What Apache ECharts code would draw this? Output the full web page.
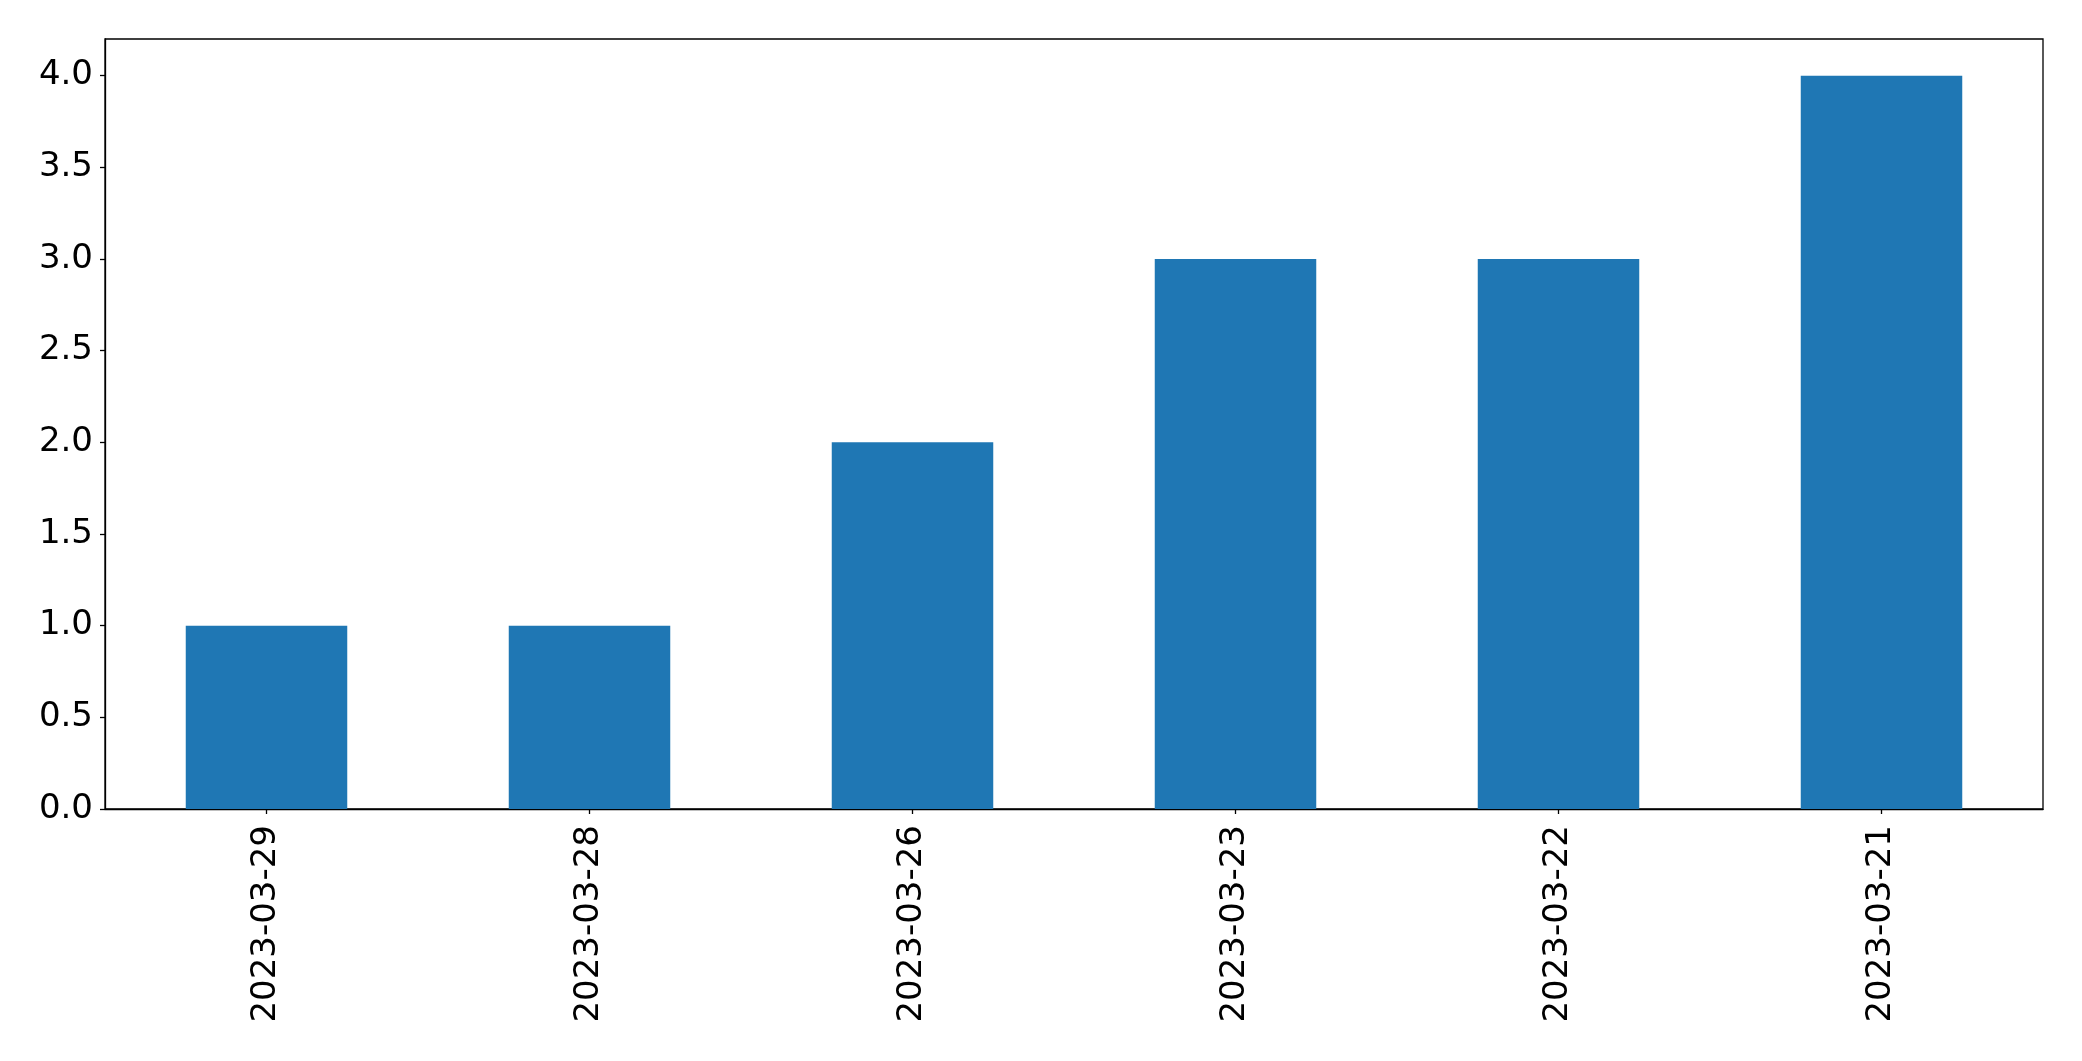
<!DOCTYPE html>
<html>
<head>
<meta charset="utf-8">
<script src="https://cdn.jsdelivr.net/npm/echarts@6/dist/echarts.min.js"></script>
<style>
html,body{margin:0;padding:0;background:#fff;}
#chart{width:2082px;height:1061px;}
</style>
</head>
<body>
<div id="chart"></div>
<script>
const categories = ["2023-03-29", "2023-03-28", "2023-03-26", "2023-03-23", "2023-03-22", "2023-03-21"];
const counts = [1, 1, 2, 3, 3, 4];
const yTicks = [0, 0.5, 1.0, 1.5, 2.0, 2.5, 3.0, 3.5, 4.0];

const chart = echarts.init(document.getElementById('chart'), null, {renderer: 'canvas'});
const font = 'DejaVu Sans';
chart.setOption({
  animation: false,
  backgroundColor: '#fff',
  grid: {
    left: 105, right: 39, top: 39, bottom: 252,
    show: true, borderColor: '#000', borderWidth: 1.3, backgroundColor: 'transparent'
  },
  xAxis: {
    type: 'category',
    data: categories,
    axisLine: {show: true, lineStyle: {color: '#000', width: 1.3}},
    axisTick: {show: true, alignWithLabel: true, length: 5, lineStyle: {color: '#000', width: 1.3}},
    axisLabel: {rotate: 90, margin: 16, color: '#000', fontSize: 34, fontFamily: font, interval: 0},
    splitLine: {show: false}
  },
  yAxis: {
    type: 'value',
    min: 0, max: 4.2,
    axisLine: {show: true, lineStyle: {color: '#000', width: 1.3}},
    axisTick: {show: true, length: 5, lineStyle: {color: '#000', width: 1.3}, customValues: yTicks},
    axisLabel: {
      color: '#000', fontSize: 34, fontFamily: font, margin: 12,
      customValues: yTicks,
      formatter: v => v.toFixed(1)
    },
    splitLine: {show: false}
  },
  series: [{
    type: 'bar',
    data: counts,
    barWidth: '50%',
    itemStyle: {color: '#1f77b4'}
  }]
});
</script>
</body>
</html>
